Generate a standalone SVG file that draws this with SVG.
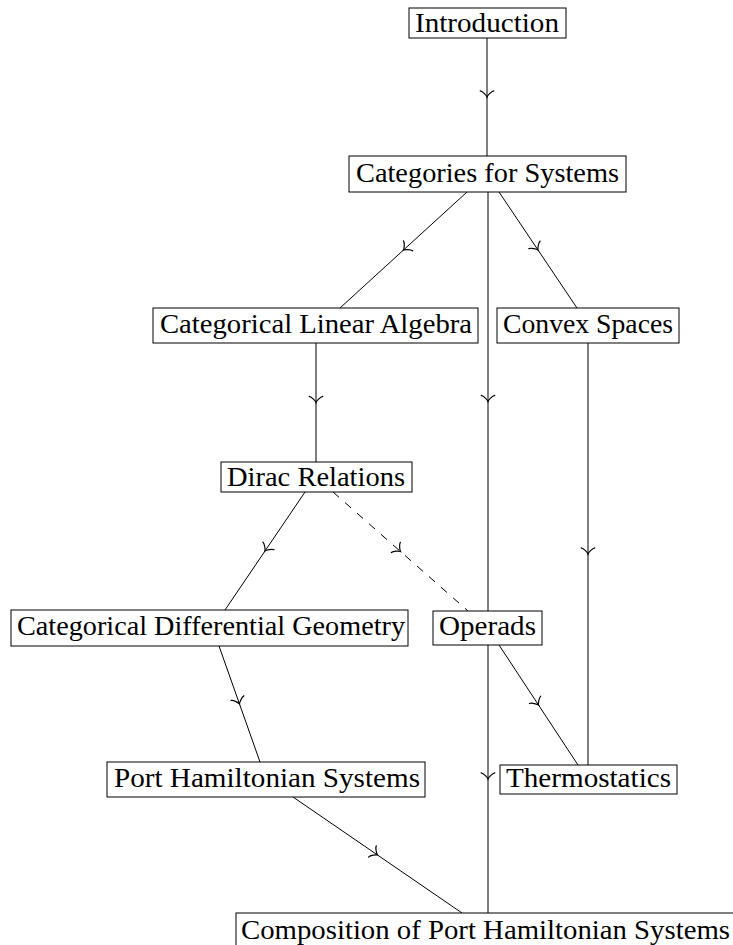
<svg xmlns="http://www.w3.org/2000/svg" width="733" height="945" viewBox="0 0 733 945">
<style>
.box{fill:#fff;stroke:#000;stroke-width:1}
.lbl{font-family:"Liberation Serif","Times New Roman",serif;font-size:27px;fill:#000}
.edge{fill:none;stroke:#000;stroke-width:1;marker-mid:url(#mid)}
.dash{stroke-dasharray:8 8}
</style>
<defs>
<marker id="mid" markerUnits="userSpaceOnUse" orient="auto" overflow="visible" markerWidth="1" markerHeight="1" refX="0" refY="0">
<path d="M -6.2,-6.8 C -5.8,-4.2 -1.2,-0.4 0,0 C -1.2,0.4 -5.8,4.2 -6.2,6.8" fill="none" stroke="#000" stroke-width="1.2" stroke-dasharray="none" stroke-linecap="round"/>
</marker>
</defs>
<g id="connectors">
<path class="edge" d="M487,38 L487,97 L487,156"/>
<path class="edge" d="M467,192 L403.5,250 L340,308"/>
<path class="edge" d="M499,192 L538,250 L577,308"/>
<path class="edge" d="M488,192 L488,401.5 L488,611"/>
<path class="edge" d="M316,343 L316,402.5 L316,462"/>
<path class="edge" d="M588,343 L588,554 L588,765"/>
<path class="edge" d="M305,492 L265,551 L225,610"/>
<path class="edge dash" d="M333,492 L400.5,551.5 L468,611"/>
<path class="edge" d="M219,646 L239.5,704 L260,762"/>
<path class="edge" d="M499,645 L538.5,705 L578,765"/>
<path class="edge" d="M488,645 L488,779 L488,913"/>
<path class="edge" d="M293,797 L377.5,855 L462,913"/>
</g>
<g id="introduction">
<rect class="box" x="409" y="8" width="157" height="30"/>
<text class="lbl" x="415" y="31.5" textLength="144" lengthAdjust="spacingAndGlyphs">Introduction</text>
</g>
<g id="categories-for-systems">
<rect class="box" x="349" y="156" width="277" height="36"/>
<text class="lbl" x="356" y="182" textLength="263" lengthAdjust="spacingAndGlyphs">Categories for Systems</text>
</g>
<g id="categorical-linear-algebra">
<rect class="box" x="153" y="308" width="325" height="35"/>
<text class="lbl" x="160" y="333" textLength="312" lengthAdjust="spacingAndGlyphs">Categorical Linear Algebra</text>
</g>
<g id="convex-spaces">
<rect class="box" x="497" y="308" width="182" height="35"/>
<text class="lbl" x="503" y="333" textLength="170" lengthAdjust="spacingAndGlyphs">Convex Spaces</text>
</g>
<g id="dirac-relations">
<rect class="box" x="221" y="462" width="191" height="30"/>
<text class="lbl" x="227" y="486" textLength="178" lengthAdjust="spacingAndGlyphs">Dirac Relations</text>
</g>
<g id="categorical-differential-geometry">
<rect class="box" x="11" y="610" width="397" height="36"/>
<text class="lbl" x="17" y="635" textLength="388" lengthAdjust="spacingAndGlyphs">Categorical Differential Geometry</text>
</g>
<g id="operads">
<rect class="box" x="433" y="611" width="109" height="34"/>
<text class="lbl" x="439" y="635" textLength="97" lengthAdjust="spacingAndGlyphs">Operads</text>
</g>
<g id="port-hamiltonian-systems">
<rect class="box" x="107" y="762" width="318" height="35"/>
<text class="lbl" x="114" y="787" textLength="306" lengthAdjust="spacingAndGlyphs">Port Hamiltonian Systems</text>
</g>
<g id="thermostatics">
<rect class="box" x="500" y="765" width="177" height="29"/>
<text class="lbl" x="506" y="787" textLength="165" lengthAdjust="spacingAndGlyphs">Thermostatics</text>
</g>
<g id="composition-of-port-hamiltonian-systems">
<rect class="box" x="236" y="913" width="504" height="50"/>
<text class="lbl" x="241" y="939" textLength="489" lengthAdjust="spacingAndGlyphs">Composition of Port Hamiltonian Systems</text>
</g>
</svg>
